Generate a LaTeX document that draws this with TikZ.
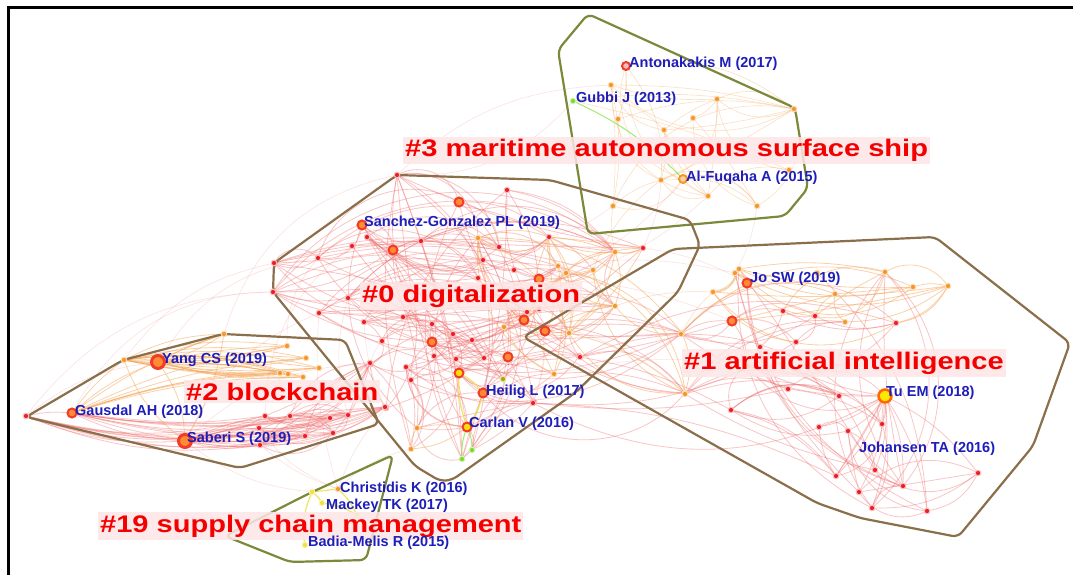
\documentclass[tikz,border=0pt]{standalone}
\usepackage{fontspec}
\usepackage{graphicx}
\setmainfont{Liberation Sans}
\pgfdeclarelayer{paperlayer}
\pgfdeclarelayer{edgelayer}
\pgfdeclarelayer{hulllayer}
\pgfsetlayers{paperlayer,edgelayer,hulllayer,main}

\definecolor{dotred}{RGB}{235,30,35}
\definecolor{dotorange}{RGB}{245,150,40}
\definecolor{dotgreen}{RGB}{120,220,40}
\definecolor{dotyellow}{RGB}{240,225,60}
\definecolor{ringred}{RGB}{240,60,40}
\definecolor{ringfill}{RGB}{255,140,50}
\definecolor{edgered}{RGB}{240,110,110}
\definecolor{edgeorange}{RGB}{245,165,85}
\definecolor{edgeyellow}{RGB}{235,225,70}
\definecolor{edgegreen}{RGB}{140,230,80}
\definecolor{hullbrown}{RGB}{139,111,74}
\definecolor{hullolive}{RGB}{122,138,58}
\definecolor{labred}{RGB}{245,0,0}
\definecolor{labpink}{RGB}{253,230,230}
\definecolor{authblue}{RGB}{30,30,185}

\tikzset{
  dotbase/.style={circle,inner sep=0pt,minimum size=5.5pt,line width=1pt},
  ndr/.style={dotbase,fill=dotred,draw=dotred!30},
  ndo/.style={dotbase,fill=dotorange,draw=dotorange!35},
  ndg/.style={dotbase,fill=dotgreen,draw=dotgreen!35},
  ndy/.style={dotbase,fill=dotyellow,draw=dotyellow!40},
  ndv/.style={dotbase,fill=olive!70!yellow,draw=olive!25},
  ndm/.style={circle,inner sep=0pt,minimum size=9pt,fill=ringfill,draw=ringred,line width=2pt},
  ndl/.style={circle,inner sep=0pt,minimum size=13pt,fill=ringfill,draw=ringred,line width=3pt},
  nda/.style={circle,inner sep=0pt,minimum size=8pt,fill=ringred!35,draw=ringred,line width=2pt},
  ndf/.style={circle,inner sep=0pt,minimum size=8pt,fill=dotorange!40,draw=dotorange,line width=2pt},
  ndt/.style={circle,inner sep=0pt,minimum size=13pt,fill=yellow!90!orange,draw=orange!80!red,line width=2.5pt},
  ndc/.style={circle,inner sep=0pt,minimum size=9pt,fill=yellow!80!orange,draw=ringred,line width=2pt},
  er/.style={draw=edgered,line width=0.8pt,draw opacity=0.4},
  eo/.style={draw=edgeorange,line width=0.8pt,draw opacity=0.5},
  ef/.style={draw=edgered,line width=0.6pt,draw opacity=0.2},
  efo/.style={draw=edgeorange,line width=0.6pt,draw opacity=0.35},
  ey/.style={draw=edgeyellow,line width=1.3pt,draw opacity=0.8},
  eg/.style={draw=edgegreen,line width=1pt,draw opacity=0.8},
  hullb/.style={draw=hullbrown,line width=2.2pt,rounded corners=6pt},
  hullg/.style={draw=hullolive,line width=2.2pt,rounded corners=6pt},
  clab/.style={font=\fontsize{24}{24}\selectfont\bfseries,text=labred,fill=labpink,fill opacity=0.85,text opacity=1,inner xsep=2pt,inner ysep=2.5pt,anchor=base west},
  alab/.style={font=\fontsize{14.5}{15}\selectfont\bfseries,text=authblue,inner sep=0pt,anchor=base west}
}

\begin{document}
\begin{tikzpicture}[x=1pt,y=-1pt]
\useasboundingbox (0,0) rectangle (1073,575);
\begin{pgfonlayer}{paperlayer}
\fill[white] (0,0) rectangle (1073,575);
\end{pgfonlayer}

% frame
\draw[line width=2.2pt] (8.5,575) -- (8.5,7.5) -- (1073,7.5);

% cluster #0 nodes
\foreach \x/\y/\t [count=\i] in {
 397/175/ndr, 507/190/ndr, 459/202/ndm, 362/225/ndm, 367/237/ndr,
 421/241/ndr, 478/238/ndo, 549/237/ndr, 352/246/ndr, 499/247/ndr,
 643/248/ndr, 393/250/ndm, 615/252/ndo, 318/258/ndr, 274/263/ndr,
 483/260/ndr, 558/266/ndo, 514/270/ndr, 593/270/ndo, 566/273/ndo,
 478/278/ndr, 539/279/ndm, 273/292/ndr, 348/298/ndr, 615/306/ndo,
 539/309/ndr, 527/312/ndr, 319/313/ndr, 403/317/ndr, 524/320/ndm,
 364/322/ndr, 432/324/ndr, 504/327/ndo, 545/331/ndm, 569/333/ndo,
 682/333/ndo, 453/334/ndr, 472/340/ndr, 382/341/ndr, 432/342/ndm,
 579/356/ndr, 434/356/ndr, 508/357/ndm, 484/358/ndr, 456/359/ndr,
 371/364/ndr, 406/367/ndr, 459/373/ndc, 554/374/ndo, 411/380/ndr,
 685/393/ndo, 483/393/ndm, 534/402/ndr, 386/408/ndr, 467/427/ndc,
 417/428/ndo, 411/449/ndo, 462/459/ndg, 472/450/ndg, 503/379/ndv}
 \node[\t] (z\i) at (\x,\y) {};

% cluster #3 nodes
\foreach \x/\y/\t [count=\i] in {
 626/66/nda, 611/85/ndo, 573/101/ndg, 717/99/ndo, 794/109/ndo,
 693/118/ndo, 618/119/ndo, 664/130/ndo, 789/170/ndo, 661/180/ndo,
 683/179/ndf, 708/196/ndo, 613/206/ndo, 757/206/ndo}
 \node[\t] (m\i) at (\x,\y) {};

% cluster #2 nodes
\foreach \x/\y/\t [count=\i] in {
 26/416/ndr, 72/413/ndm, 124/360/ndo, 158/362/ndl, 224/334/ndo,
 287/346/ndo, 306/358/ndo, 319/368/ndo, 280/373/ndo, 288/374/ndo,
 303/377/ndo, 185/441/ndl, 265/416/ndr, 290/416/ndr, 259/428/ndr,
 330/418/ndr, 348/415/ndr, 305/436/ndr, 333/433/ndr, 260/445/ndr,
 385/407/ndr, 370/363/ndr}
 \node[\t] (w\i) at (\x,\y) {};

% cluster #1 nodes
\foreach \x/\y/\t [count=\i] in {
 735/273/ndo, 739/269/ndo, 747/283/ndm, 885/272/ndo, 817/273/ndo,
 948/286/ndo, 913/287/ndo, 713/292/ndo, 835/294/ndo, 783/311/ndr,
 815/316/ndr, 732/321/ndm, 845/322/ndo, 896/323/ndr, 681/334/ndo,
 796/342/ndr, 760/347/ndr, 580/357/ndr, 748/366/ndo, 788/389/ndr,
 685/394/ndo, 839/396/ndr, 885/396/ndt, 533/403/ndr, 731/410/ndr,
 882/424/ndr, 819/427/ndr, 848/431/ndr, 875/470/ndr, 978/473/ndr,
 836/476/ndr, 903/486/ndr, 859/492/ndr, 872/508/ndr, 927/511/ndr}
 \node[\t] (a\i) at (\x,\y) {};

% cluster #19 nodes
\foreach \x/\y/\t [count=\i] in {
 338/489/ndo, 312/492/ndy, 322/503/ndy, 357/515/ndy, 305/545/ndy}
 \node[\t] (s\i) at (\x,\y) {};

% citation links
\begin{pgfonlayer}{edgelayer}
\pgfmathsetseed{4242}
% #0: mostly local arcs
\foreach \k in {1,...,220}{
  \pgfmathtruncatemacro\p{random(1,60)}
  \pgfmathtruncatemacro\q{mod(\p+random(1,12)-1,60)+1}
  \pgfmathtruncatemacro\b{random(-50,50)}
  \draw[er] (z\p) to[bend left=\b] (z\q);
}
% #0: orange part
\def\olist{{7,13,17,19,20,25,33,35,36,49,51,22,30,34,8,11}}
\foreach \k in {1,...,50}{
  \pgfmathtruncatemacro\p{\olist[random(0,15)]}
  \pgfmathtruncatemacro\q{\olist[random(0,15)]}
  \pgfmathtruncatemacro\b{random(-40,40)}
  \ifnum\p=\q\else\draw[eo] (z\p) to[bend left=\b] (z\q);\fi
}
% #3
\foreach \k in {1,...,40}{
  \pgfmathtruncatemacro\p{random(1,14)}
  \pgfmathtruncatemacro\q{mod(\p+random(1,6)-1,14)+1}
  \pgfmathtruncatemacro\b{random(-45,45)}
  \draw[efo] (m\p) to[bend left=\b] (m\q);
}
\draw[eg] (m3) to[bend left=10] (m11);
\draw[efo] (m1) to[bend left=10] (m7);
\draw[efo] (m1) to[bend left=20] (m10);
% #1
\foreach \k in {1,...,110}{
  \pgfmathtruncatemacro\p{random(1,35)}
  \pgfmathtruncatemacro\q{mod(\p+random(1,8)-1,35)+1}
  \pgfmathtruncatemacro\b{random(-45,45)}
  \ifnum\p<10 \draw[eo] (a\p) to[bend left=\b] (a\q);
  \else \draw[er] (a\p) to[bend left=\b] (a\q);\fi
}
\foreach \j in {26,...,35}{\draw[er] (a23) to[bend left=12] (a\j);}
\draw[er] (a30) to[bend left=25] (a35);
% #2
\foreach \j in {3,5,6,7,8,9,10,11}{
  \draw[eo] (w2) to[bend left=8] (w\j);
  \draw[eo] (w4) to[bend left=5] (w\j);
  \draw[eo] (w4) to[bend right=9] (w\j);
  \draw[eo] (w3) to[bend left=12] (w\j);
  \draw[eo] (w3) to[bend right=6] (w\j);
}
\foreach \j in {13,...,21}{
  \draw[er] (w2) to[bend right=8] (w\j);
  \draw[er] (w12) to[bend left=6] (w\j);
  \draw[er] (w12) to[bend right=12] (w\j);
  \draw[er] (w1) to[bend right=14] (w\j);
}
\foreach \k in {1,...,40}{
  \pgfmathtruncatemacro\p{random(13,22)}
  \pgfmathtruncatemacro\q{random(13,22)}
  \pgfmathtruncatemacro\b{random(-40,40)}
  \ifnum\p=\q\else\draw[er] (w\p) to[bend left=\b] (w\q);\fi
}
\draw[er] (w1) to[bend left=8] (w2);
\draw[er] (w1) to[bend right=12] (w12);
\draw[ef] (w1) to[bend left=15] (w4);
\draw[eo] (w2) to[bend left=10] (w4);
\draw[er] (w2) to[bend right=10] (w12);
\draw[eo] (w4) to[bend left=15] (w12);
\draw[eo] (w3) to[bend right=15] (w12);
\draw[eo] (w5) to[bend left=10] (w12);
% #19
\draw[ey] (s1) -- (s2);
\draw[ey] (s2) to[bend left=10] (s3);
\draw[ey] (s3) to[bend left=10] (s4);
\draw[ey] (s2) to[bend right=15] (s5);
\draw[ey] (s1) to[bend left=10] (s4);
% Carlan V and Heilig L
\draw[ey] (z55) to[bend left=10] (z48);
\draw[ey] (z55) to[bend right=10] (z52);
\draw[ey] (z48) to[bend left=10] (z52);
\draw[eg] (z55) to[bend right=10] (z58);
\draw[eg] (z55) to[bend left=10] (z59);
\draw[eo] (z55) to[bend right=10] (z56);
\draw[eo] (z55) to[bend left=15] (z57);
\draw[eo] (z56) to[bend right=15] (z57);
% links between clusters
\foreach \u/\v/\b in {w3/z15/20, w5/z1/30, w1/z23/25, w12/z28/20, w17/z24/15,
  w21/z31/10, w22/z39/10, w16/z46/10, w6/z14/20, w13/z9/25, w20/z54/15,
  s1/w15/15, s1/w20/10, s1/z57/15, s1/z54/10, s2/w12/15, s1/z28/10,
  m3/z1/25, m13/z8/10, m10/z11/10, m11/z22/15, m14/a1/10, m12/z19/10,
  z34/a18/10, z26/a24/15, z22/a12/10, z36/a15/10, z30/a21/15, z41/a18/10,
  z49/a19/10, z11/a3/10, z17/a1/10, z34/a24/10, z53/a24/10, z1/m2/20,
  w4/z14/25, w2/z23/30, w12/z46/20}
  \draw[ef] (\u) to[bend left=\b] (\v);
\foreach \u/\v/\b in {z25/a8/10, z36/a8/10, z51/a21/10, z13/m13/10, z19/m10/15}
  \draw[efo] (\u) to[bend left=\b] (\v);
\end{pgfonlayer}

% cluster outlines
\begin{pgfonlayer}{hulllayer}
\draw[hullg] (588,14) -- (558,50) -- (588,234) -- (785,216) -- (808,188) -- (795,108) -- cycle;
\draw[hullb] (397,175) -- (550,180) -- (690,220) -- (700,245) -- (678,292) -- (575,393)
  -- (452,480) -- (440,481) -- (415,466) -- (273,292) -- (274,263) -- cycle;
\draw[hullb] (26,417) -- (123,360) -- (223,334) -- (345,340) -- (379,424) -- (240,468) -- cycle;
\draw[hullb] (523,337) -- (673,249) -- (935,237) -- (1070,343) -- (1033,446) -- (958,537)
  -- (860,518) -- (817,503) -- cycle;
\draw[hullg] (393,455) -- (310,493) -- (225,536) -- (290,562) -- (366,560) -- cycle;
\end{pgfonlayer}

% cluster labels
\node[clab] (c3) at (403,156.5) {\scalebox{1.21}[1]{\#3 maritime autonomous surface ship}};
\node[clab] (c0) at (360,302) {\scalebox{1.21}[1]{\#0 digitalization}};
\node[clab] (c2) at (184,400) {\scalebox{1.21}[1]{\#2 blockchain}};
\node[clab] (c1) at (682,369) {\scalebox{1.21}[1]{\#1 artificial intelligence}};
\node[clab] (c19) at (98,532) {\scalebox{1.21}[1]{\#19 supply chain management}};

% author labels
\node[alab] (tAnt) at (629,67.5) {Antonakakis M (2017)};
\node[alab] (tGub) at (576,102.5) {Gubbi J (2013)};
\node[alab] (tFuq) at (686,181.5) {Al-Fuqaha A (2015)};
\node[alab] (tSan) at (364,226.5) {Sanchez-Gonzalez PL (2019)};
\node[alab] (tJo) at (750,282.5) {Jo SW (2019)};
\node[alab] (tYan) at (162,363.5) {Yang CS (2019)};
\node[alab] (tGau) at (75,415.5) {Gausdal AH (2018)};
\node[alab] (tSab) at (187,442.5) {Saberi S (2019)};
\node[alab] (tHei) at (486,395.5) {Heilig L (2017)};
\node[alab] (tCar) at (469,427.5) {Carlan V (2016)};
\node[alab] (tChr) at (340,492.5) {Christidis K (2016)};
\node[alab] (tMac) at (326,509.5) {Mackey TK (2017)};
\node[alab] (tBad) at (308,546.5) {Badia-Melis R (2015)};
\node[alab] (tTu) at (886,396.5) {Tu EM (2018)};
\node[alab] (tJoh) at (859,452.5) {Johansen TA (2016)};
\end{tikzpicture}
\end{document}
